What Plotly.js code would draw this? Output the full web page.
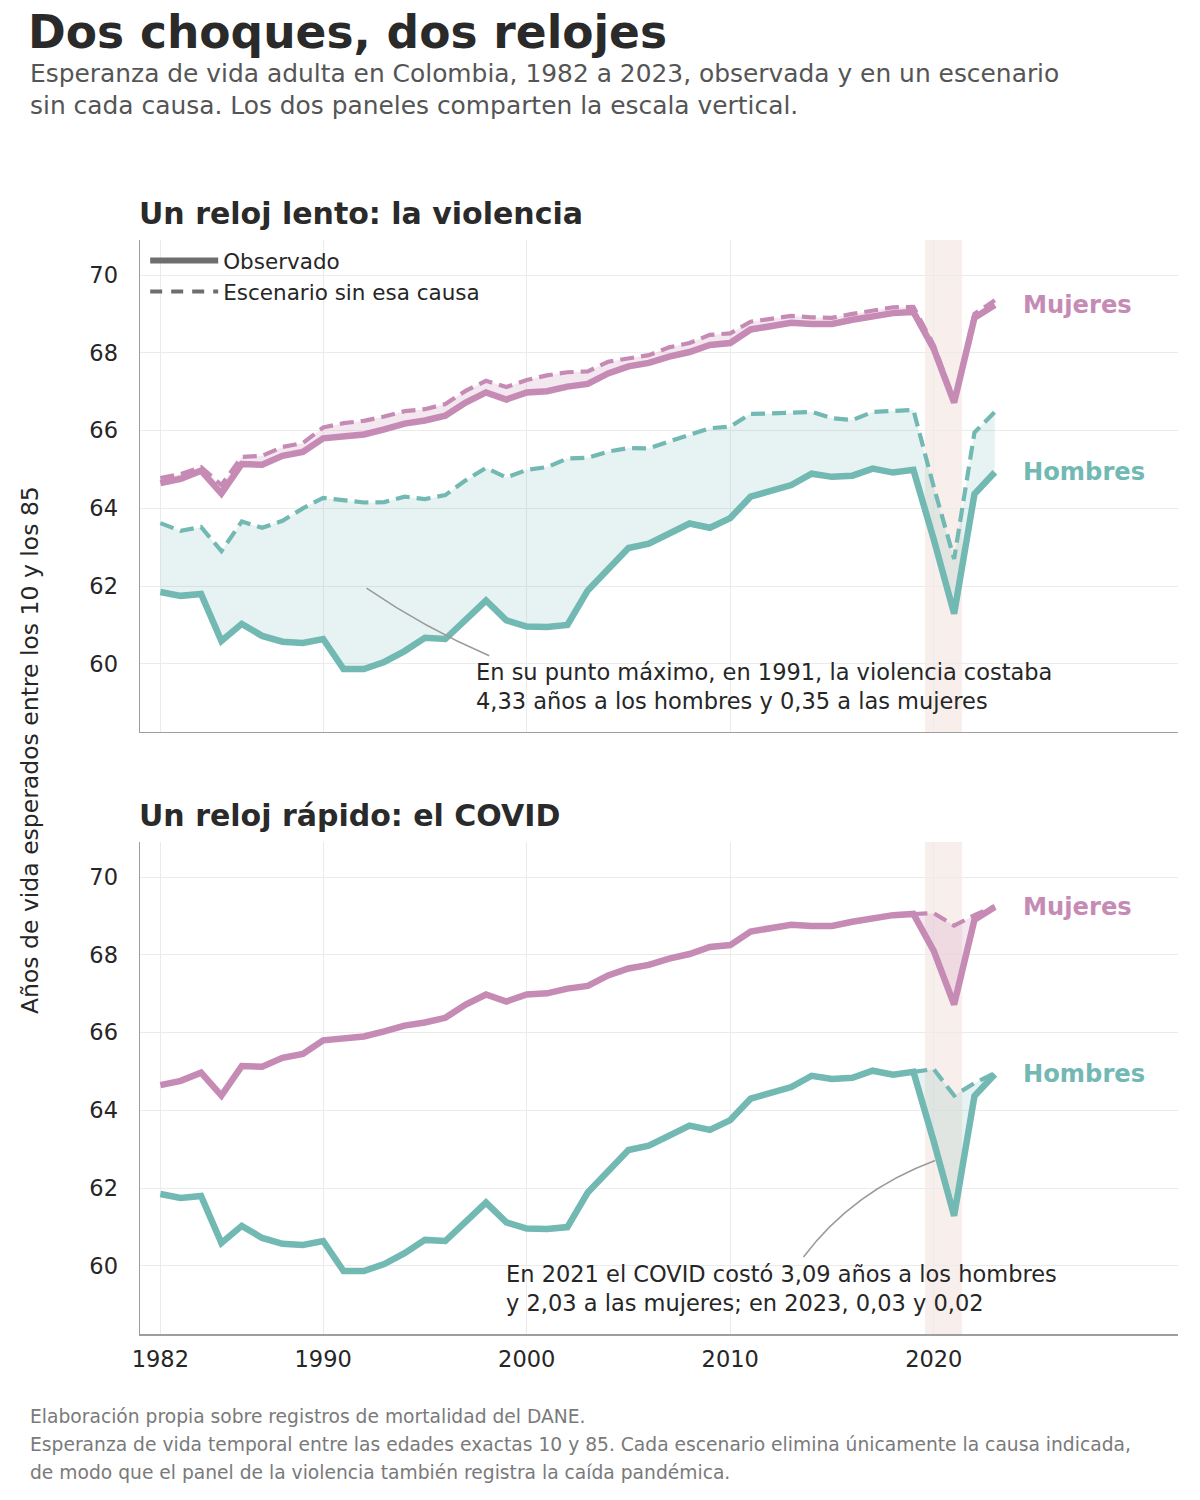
<!DOCTYPE html>
<html>
<head>
<meta charset="utf-8">
<script src="https://cdn.plot.ly/plotly-3.0.1.min.js"></script>
<style>body{margin:0;background:#fff}</style>
</head>
<body>
<div id="chart" style="width:1200px;height:1500px"></div>
<script>
const years = [1982,1983,1984,1985,1986,1987,1988,1989,1990,1991,1992,1993,1994,1995,1996,1997,1998,1999,2000,2001,2002,2003,2004,2005,2006,2007,2008,2009,2010,2011,2012,2013,2014,2015,2016,2017,2018,2019,2020,2021,2022,2023];

const menObserved = [61.85,61.75,61.80,60.59,61.03,60.72,60.57,60.54,60.64,59.87,59.87,60.05,60.33,60.67,60.64,61.13,61.63,61.12,60.96,60.95,61.00,61.89,62.43,62.98,63.09,63.35,63.61,63.50,63.75,64.30,64.46,64.60,64.89,64.81,64.84,65.02,64.92,64.99,63.20,61.29,64.37,64.93];
const menNoViolence = [63.62,63.42,63.52,62.90,63.66,63.50,63.68,64.00,64.27,64.20,64.15,64.16,64.30,64.24,64.34,64.72,65.04,64.79,64.99,65.06,65.28,65.30,65.46,65.55,65.54,65.72,65.88,66.06,66.10,66.43,66.44,66.45,66.48,66.32,66.27,66.48,66.50,66.53,64.55,62.70,65.95,66.48];
const womenObserved = [64.65,64.76,64.97,64.38,65.14,65.12,65.35,65.45,65.80,65.84,65.90,66.03,66.18,66.26,66.38,66.72,66.98,66.80,66.98,67.01,67.13,67.20,67.47,67.65,67.74,67.90,68.02,68.20,68.25,68.60,68.67,68.77,68.74,68.74,68.85,68.95,69.02,69.05,68.10,66.72,68.90,69.23];
const womenNoViolence = [64.78,64.88,65.06,64.60,65.32,65.35,65.58,65.68,66.08,66.19,66.25,66.36,66.50,66.55,66.68,67.02,67.28,67.12,67.30,67.42,67.50,67.52,67.77,67.86,67.94,68.14,68.25,68.46,68.50,68.80,68.88,68.95,68.91,68.90,69.00,69.08,69.17,69.18,68.20,66.78,69.00,69.35];

const covidYears = [2019,2020,2021,2022,2023];
const menNoCovid = [64.99,65.06,64.38,64.70,64.96];
const womenNoCovid = [69.05,69.07,68.75,69.02,69.25];

const xTicks = [1982,1990,2000,2010,2020];
const yTicks = [60,62,64,66,68,70];
const pandemicBand = [2019.57, 2021.39];

const TEAL = '#72b8b3', PINK = '#c68bb5';
const TEAL_FILL = 'rgba(114,184,179,0.17)', PINK_FILL = 'rgba(198,139,181,0.2)';
const FONT = 'DejaVu Sans';

const iCovid = years.indexOf(covidYears[0]);
const menObsCovid = menObserved.slice(iCovid);
const womenObsCovid = womenObserved.slice(iCovid);

function base(x, y, xa, ya) {
  return {x, y, xaxis: xa, yaxis: ya, mode: 'lines', line: {width: 0, color: 'rgba(0,0,0,0)'}, showlegend: false, hoverinfo: 'skip'};
}
function fillTo(x, y, xa, ya, col) {
  return {x, y, xaxis: xa, yaxis: ya, mode: 'lines', fill: 'tonexty', fillcolor: col, line: {width: 0, color: 'rgba(0,0,0,0)'}, showlegend: false, hoverinfo: 'skip'};
}
function solid(x, y, xa, ya, col) {
  return {x, y, xaxis: xa, yaxis: ya, mode: 'lines', line: {width: 6.5, color: col}, showlegend: false};
}
function dashed(x, y, xa, ya, col) {
  return {x, y, xaxis: xa, yaxis: ya, mode: 'lines', line: {width: 4.2, color: col, dash: '14px,7px'}, showlegend: false};
}

const traces = [
  base(years, menObserved, 'x', 'y'),
  fillTo(years, menNoViolence, 'x', 'y', TEAL_FILL),
  base(years, womenObserved, 'x', 'y'),
  fillTo(years, womenNoViolence, 'x', 'y', PINK_FILL),
  solid(years, menObserved, 'x', 'y', TEAL),
  dashed(years, menNoViolence, 'x', 'y', TEAL),
  solid(years, womenObserved, 'x', 'y', PINK),
  dashed(years, womenNoViolence, 'x', 'y', PINK),
  base(covidYears, menObsCovid, 'x2', 'y2'),
  fillTo(covidYears, menNoCovid, 'x2', 'y2', TEAL_FILL),
  base(covidYears, womenObsCovid, 'x2', 'y2'),
  fillTo(covidYears, womenNoCovid, 'x2', 'y2', PINK_FILL),
  solid(years, menObserved, 'x2', 'y2', TEAL),
  dashed(covidYears, menNoCovid, 'x2', 'y2', TEAL),
  solid(years, womenObserved, 'x2', 'y2', PINK),
  dashed(covidYears, womenNoCovid, 'x2', 'y2', PINK),
  {x: [null], y: [null], xaxis: 'x', yaxis: 'y', mode: 'lines', name: 'Observado', line: {width: 6, color: '#6e6e6e'}, showlegend: true},
  {x: [null], y: [null], xaxis: 'x', yaxis: 'y', mode: 'lines', name: 'Escenario sin esa causa', line: {width: 4, color: '#6e6e6e', dash: '12px,9px'}, showlegend: true}
];

const axisCommon = {
  showgrid: true, gridcolor: '#ebebeb', gridwidth: 1,
  showline: true, linecolor: '#9e9e9e', linewidth: 1.5,
  zeroline: false, tickfont: {family: FONT, size: 22.5, color: '#262626'},
  ticks: 'outside', tickcolor: 'rgba(0,0,0,0)'
};
const xCommon = Object.assign({}, axisCommon, {range: [1981, 2032], tickvals: xTicks, ticklen: 4});
const yCommon = Object.assign({}, axisCommon, {range: [58.25, 70.9], tickvals: yTicks, ticklen: 16});

const lastM = menObserved.length - 1;
const labelX = 2024.3;
const PX = px => (px - 140) / 1038;
const PY = py => (1334 - py) / 1094;

const layout = {
  width: 1200, height: 1500,
  margin: {l: 140, r: 22, t: 240, b: 166},
  paper_bgcolor: '#ffffff', plot_bgcolor: '#ffffff',
  font: {family: FONT, color: '#262626'},
  title: {text: '<b>Dos choques, dos relojes</b>', x: 28/1200, xanchor: 'left', xref: 'container', y: 1 - 32/1500, yanchor: 'middle', yref: 'container', font: {family: FONT, size: 45.5, color: '#2a2a2a'}},
  xaxis: Object.assign({}, xCommon, {domain: [0, 1], anchor: 'y', showticklabels: false}),
  yaxis: Object.assign({}, yCommon, {domain: [0.5503, 1], anchor: 'x'}),
  xaxis2: Object.assign({}, xCommon, {domain: [0, 1], anchor: 'y2', matches: 'x'}),
  yaxis2: Object.assign({}, yCommon, {domain: [0, 0.4497], anchor: 'x2'}),
  showlegend: true,
  legend: {x: 0.005, y: 1.0, xanchor: 'left', yanchor: 'top', xref: 'paper', yref: 'paper', bgcolor: 'rgba(0,0,0,0)', font: {family: FONT, size: 21.5, color: '#262626'}, tracegroupgap: 0, itemwidth: 68, traceorder: 'normal'},
  shapes: [
    {type: 'rect', xref: 'x', yref: 'y domain', x0: pandemicBand[0], x1: pandemicBand[1], y0: 0, y1: 1, fillcolor: 'rgba(200,120,100,0.13)', line: {width: 0}, layer: 'below'},
    {type: 'rect', xref: 'x2', yref: 'y2 domain', x0: pandemicBand[0], x1: pandemicBand[1], y0: 0, y1: 1, fillcolor: 'rgba(200,120,100,0.13)', line: {width: 0}, layer: 'below'},
    {type: 'path', xref: 'x', yref: 'y', path: 'M 1992.13,61.95 Q 1994.97,60.93 1998.16,60.21', line: {color: '#9a9a9a', width: 1.5}},
    {type: 'path', xref: 'x2', yref: 'y2', path: 'M 2013.6,60.23 Q 2016.05,61.93 2020.07,62.71', line: {color: '#9a9a9a', width: 1.5}}
  ],
  annotations: [
    {xref: 'paper', yref: 'paper', x: PX(28), y: PY(57), xanchor: 'left', yanchor: 'top', align: 'left', showarrow: false,
     text: 'Esperanza de vida adulta en Colombia, 1982 a 2023, observada y en un escenario<br>sin cada causa. Los dos paneles comparten la escala vertical.',
     font: {family: FONT, size: 24.9, color: '#555555'}},
    {xref: 'paper', yref: 'paper', x: PX(137), y: PY(214), xanchor: 'left', yanchor: 'middle', showarrow: false,
     text: '<b>Un reloj lento: la violencia</b>', font: {family: FONT, size: 30, color: '#2a2a2a'}},
    {xref: 'paper', yref: 'paper', x: PX(137), y: PY(815), xanchor: 'left', yanchor: 'middle', showarrow: false,
     text: '<b>Un reloj rápido: el COVID</b>', font: {family: FONT, size: 30, color: '#2a2a2a'}},
    {xref: 'paper', yref: 'paper', x: PX(30), y: PY(750), xanchor: 'center', yanchor: 'middle', textangle: -90, showarrow: false,
     text: 'Años de vida esperados entre los 10 y los 85', font: {family: FONT, size: 23.5, color: '#262626'}},
    {xref: 'x', yref: 'y', x: labelX, y: womenObserved[lastM], xanchor: 'left', yanchor: 'middle', showarrow: false,
     text: '<b>Mujeres</b>', font: {family: FONT, size: 24.2, color: PINK}},
    {xref: 'x', yref: 'y', x: labelX, y: menObserved[lastM], xanchor: 'left', yanchor: 'middle', showarrow: false,
     text: '<b>Hombres</b>', font: {family: FONT, size: 24.2, color: TEAL}},
    {xref: 'x2', yref: 'y2', x: labelX, y: womenObserved[lastM], xanchor: 'left', yanchor: 'middle', showarrow: false,
     text: '<b>Mujeres</b>', font: {family: FONT, size: 24.2, color: PINK}},
    {xref: 'x2', yref: 'y2', x: labelX, y: menObserved[lastM], xanchor: 'left', yanchor: 'middle', showarrow: false,
     text: '<b>Hombres</b>', font: {family: FONT, size: 24.2, color: TEAL}},
    {xref: 'x', yref: 'y', x: 1997.42, y: 59.43, xanchor: 'left', yanchor: 'middle', align: 'left', showarrow: false,
     text: 'En su punto máximo, en 1991, la violencia costaba<br>4,33 años a los hombres y 0,35 a las mujeres', font: {family: FONT, size: 22.5, color: '#262626'}},
    {xref: 'x2', yref: 'y2', x: 1998.89, y: 59.43, xanchor: 'left', yanchor: 'middle', align: 'left', showarrow: false,
     text: 'En 2021 el COVID costó 3,09 años a los hombres<br>y 2,03 a las mujeres; en 2023, 0,03 y 0,02', font: {family: FONT, size: 22.5, color: '#262626'}},
    {xref: 'paper', yref: 'paper', x: PX(28), y: PY(1416), xanchor: 'left', yanchor: 'middle', showarrow: false,
     text: 'Elaboración propia sobre registros de mortalidad del DANE.', font: {family: FONT, size: 18.7, color: '#7a7a7a'}},
    {xref: 'paper', yref: 'paper', x: PX(28), y: PY(1444), xanchor: 'left', yanchor: 'middle', showarrow: false,
     text: 'Esperanza de vida temporal entre las edades exactas 10 y 85. Cada escenario elimina únicamente la causa indicada,', font: {family: FONT, size: 18.7, color: '#7a7a7a'}},
    {xref: 'paper', yref: 'paper', x: PX(28), y: PY(1472), xanchor: 'left', yanchor: 'middle', showarrow: false,
     text: 'de modo que el panel de la violencia también registra la caída pandémica.', font: {family: FONT, size: 18.7, color: '#7a7a7a'}}
  ]
};

Plotly.newPlot('chart', traces, layout, {displayModeBar: false, staticPlot: true});
</script>
</body>
</html>
